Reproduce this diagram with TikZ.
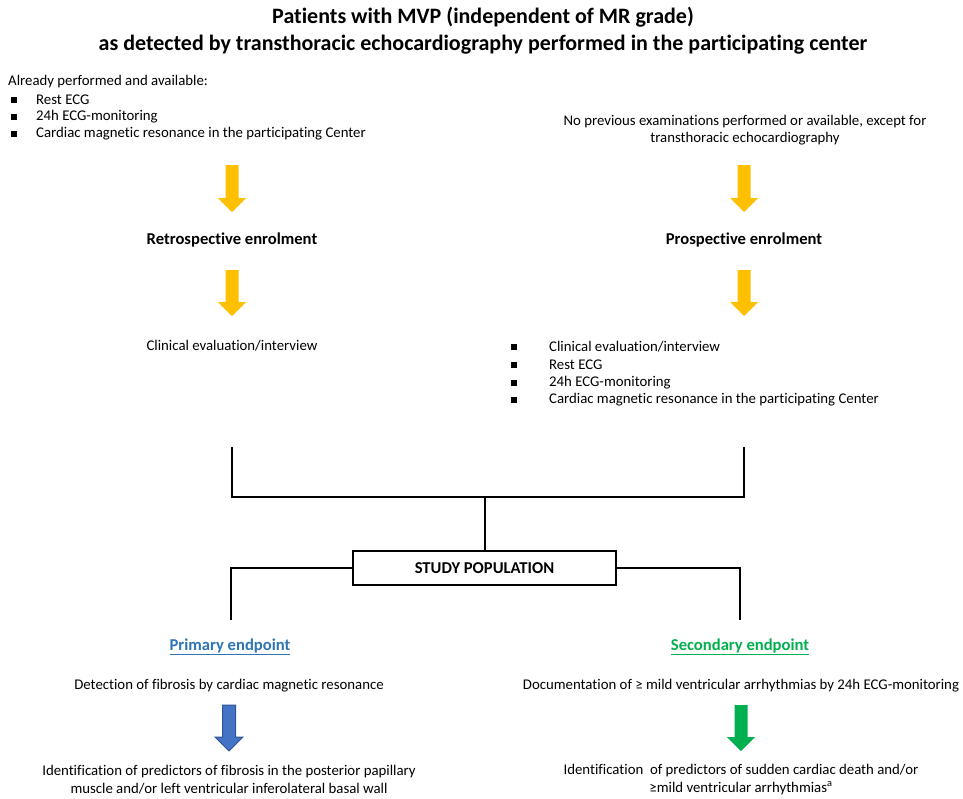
\documentclass[tikz,border=0pt]{standalone}
\usepackage{fontspec}
\setmainfont{Carlito}[Ligatures=NoCommon]
\definecolor{arryel}{HTML}{FFC000}
\definecolor{arrblue}{HTML}{4472C4}
\definecolor{arrblueline}{HTML}{2F5597}
\definecolor{arrgreen}{HTML}{00B050}
\definecolor{eptblue}{HTML}{2E75B6}
\definecolor{eptgreen}{HTML}{00B050}
\newcommand{\bigdownarrow}[4]{% x, ytop, ytip, style
  \path[#4] (#1-6.5,#2) -- (#1+6.5,#2) -- (#1+6.5,#3-14) -- (#1+14,#3-14) -- (#1,#3) -- (#1-14,#3-14) -- (#1-6.5,#3-14) -- cycle;}
\newcommand{\sqbullet}[2]{\fill (#1-2.7,#2-2.7) rectangle (#1+2.7,#2+2.7);}
\begin{document}
\begin{tikzpicture}[x=1pt,y=-1pt,
  body/.style={inner sep=0pt, font=\fontsize{14.8}{17.5}\selectfont, align=center},
  bodyl/.style={inner sep=0pt, font=\fontsize{14.8}{17.5}\selectfont, anchor=west},
  bold/.style={inner sep=0pt, font=\fontsize{16.6}{19}\selectfont\bfseries, align=center},
  line/.style={draw=black, line width=1.6pt}]
\useasboundingbox (0,0) rectangle (963,798);
\fill[white] (0,0) rectangle (963,798);
% title
\node[inner sep=0pt, font=\fontsize{22}{27}\selectfont\bfseries, align=center] (title) at (483,31)
  {Patients with MVP (independent of MR grade)\\as detected by transthoracic echocardiography performed in the participating center};
% left block
\node[bodyl] (lhead) at (8,82) {Already performed and available:};
\node[bodyl] (l1) at (36,100) {Rest ECG};
\node[bodyl] (l2) at (36,117) {24h ECG-monitoring};
\node[bodyl] (l3) at (36,134) {Cardiac magnetic resonance in the participating Center};
\sqbullet{14}{100}\sqbullet{14}{117}\sqbullet{14}{134}
% right block
\node[body] (rhead) at (745,130) {No previous examinations performed or available, except for\\transthoracic echocardiography};
% yellow arrows
\bigdownarrow{232}{165}{212}{fill=arryel}
\bigdownarrow{744}{165}{212}{fill=arryel}
\node[bold] (retro) at (232,240) {Retrospective enrolment};
\node[bold] (pros) at (744,240) {Prospective enrolment};
\bigdownarrow{232}{270}{316}{fill=arryel}
\bigdownarrow{744}{270}{316}{fill=arryel}
\node[body] (clin) at (232,346) {Clinical evaluation/interview};
\node[bodyl] (r1) at (549,347) {Clinical evaluation/interview};
\node[bodyl] (r2) at (549,365) {Rest ECG};
\node[bodyl] (r3) at (549,383) {24h ECG-monitoring};
\node[bodyl] (r4) at (549,400) {Cardiac magnetic resonance in the participating Center};
\sqbullet{514}{347}\sqbullet{514}{365}\sqbullet{514}{383}\sqbullet{514}{400}
% bracket
\coordinate (bl) at (232,447);
\coordinate (br) at (744,447);
\coordinate (bm) at (485,497);
\node[draw=black, line width=1.6pt, minimum width=263pt, minimum height=34pt, inner sep=0pt,
  font=\fontsize{16.6}{19}\selectfont\bfseries] (study) at (484.5,568) {STUDY POPULATION};
\draw[line] (bl) |- (bm) -| (br);
\draw[line] (bm) -- (study.north -| bm);
\coordinate (el) at (231,620);
\coordinate (er) at (740,620);
\draw[line] (study.west) -| (el);
\draw[line] (study.east) -| (er);
% endpoints
\node[bold, text=eptblue] (prim) at (230,647) {\underline{Primary endpoint}};
\node[bold, text=eptgreen] (sec) at (740,647) {\underline{Secondary endpoint}};
\node[body] (det) at (229,686) {Detection of fibrosis by cardiac magnetic resonance};
\node[body] (doc) at (741,686) {Documentation of ≥ mild ventricular arrhythmias by 24h ECG-monitoring};
\bigdownarrow{229}{705}{751}{fill=arrblue, draw=arrblueline, line width=1pt}
\bigdownarrow{741}{705}{751}{fill=arrgreen}
\node[body] (idl) at (229,779.5) {Identification of predictors of fibrosis in the posterior papillary\\muscle and/or left ventricular inferolateral basal wall};
\node[body] (idr) at (741,779.5) {Identification\ \ of predictors of sudden cardiac death and/or\\≥mild ventricular arrhythmias\textsuperscript{a}};
\end{tikzpicture}
\end{document}
